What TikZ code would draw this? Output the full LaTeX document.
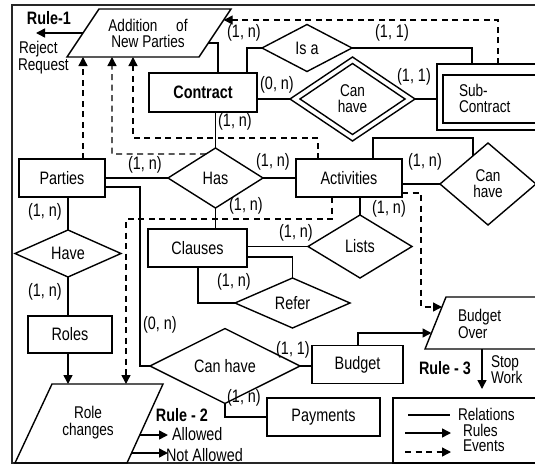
\documentclass[tikz,border=0pt]{standalone}
\usepackage{fontspec}
\setmainfont{Liberation Sans}[FakeStretch=0.8]
\usetikzlibrary{shapes.geometric,arrows.meta,calc}
\begin{document}
\begin{tikzpicture}[x=1pt,y=-1pt,
  every node/.style={font=\fontsize{18}{15}\selectfont, inner sep=0pt, outer sep=0pt},
  two/.style={font=\fontsize{17}{16}\selectfont},
  ent/.style={draw, rectangle, line width=1.8pt},
  rel/.style={draw, diamond, line width=1.4pt},
  para/.style={draw, line width=1.4pt, line join=miter},
  conn/.style={line width=1.5pt},
  rulearrow/.style={line width=1.5pt, -{Triangle[length=9pt,width=9pt]}},
  event/.style={line width=1.4pt, dash pattern=on 6pt off 4.5pt, -{Triangle[length=9pt,width=9pt]}},
  card/.style={}
]
\useasboundingbox (0,0) rectangle (535,466);
\clip (0,0) rectangle (535,466);

% frame
\draw[line width=1.6pt, draw=black!85] (12,5) rectangle (545,463);

% ---------- parallelograms ----------
\draw[para] (99,9) -- (231,9) -- (199,57) -- (67,57) -- cycle;
\node[align=center, two] (addition) at (148,33) {Addition\hspace{1.1em}of\\New Parties};
\coordinate (addR43) at (208.3,43);
\coordinate (addR20) at (223.7,20);
\coordinate (addL33) at (83,33);

\draw[para] (52,384) -- (163,384) -- (127,463) -- (15,463) -- cycle;
\node[align=center, font=\fontsize{17}{17}\selectfont] (rolech) at (88,423) {Role\\changes};
\coordinate (rcR1) at (139.8,435);
\coordinate (rcR2) at (131.6,453);

\draw[para] (446,297) -- (560,297) -- (539,349) -- (425,349) -- cycle;
\node[align=left, anchor=west, font=\fontsize{17}{17}\selectfont] (budgetover) at (458,323.5) {Budget\\Over};
\coordinate (boL333) at (431.5,333);
\coordinate (boL307) at (442,307);
\coordinate (boB) at (482,349);

% ---------- entities ----------
\node[ent, minimum width=108pt, minimum height=39pt, font=\fontsize{18}{15}\selectfont\bfseries] (contract) at (203,92.5) {Contract};
\node[ent, minimum width=86pt, minimum height=38pt] (parties) at (62,178) {Parties};
\node[ent, minimum width=106pt, minimum height=38pt] (activities) at (349,178) {Activities};
\node[ent, minimum width=99pt, minimum height=38pt] (clauses) at (197.5,248) {Clauses};
\node[ent, minimum width=84pt, minimum height=37pt] (roles) at (70,334.5) {Roles};
\node[ent, minimum width=91pt, minimum height=38pt] (budget) at (357.5,364.5) {Budget};
\node[ent, minimum width=113pt, minimum height=38pt] (payments) at (323.5,417) {Payments};

% Sub-contract (double box)
\draw[line width=1.8pt] (437,64) rectangle (560,130);
\draw[line width=1.8pt] (443,75) rectangle (560,123);
\node[align=left, anchor=west, two] (subcontract) at (459,98) {Sub-\\Contract};
\coordinate (scL) at (437,99);
\coordinate (scT1) at (472,64);
\coordinate (scT2) at (498,64);

% ---------- relationships ----------
\node[rel, minimum width=90pt, minimum height=47pt] (isa) at (307,48) {Is a};
\node[rel, minimum width=105pt, minimum height=71pt, align=center, two] (canhave1) at (352.5,99) {Can\\have};
\draw[line width=1.4pt, line join=miter] (290,99) -- (352.5,57) -- (415,99) -- (352.5,141) -- cycle;
\coordinate (ch1W) at (290,99);
\coordinate (ch1E) at (415,99);
\node[rel, minimum width=95pt, minimum height=60pt] (has) at (215.5,178) {Has};
\node[rel, minimum width=96pt, minimum height=82pt, align=center, two] (canhave2) at (488,184) {Can\\have};
\node[rel, minimum width=104pt, minimum height=63pt] (lists) at (360,246.5) {Lists};
\node[rel, minimum width=115pt, minimum height=50pt] (refer) at (292.5,303) {Refer};
\node[rel, minimum width=106pt, minimum height=47pt] (have) at (68,253.5) {Have};
\node[rel, minimum width=150pt, minimum height=46pt] (canhave3) at (225,366) {Can have};

% ---------- relations (solid) ----------
\draw[conn] (218,73) -- (218,43) -- (addR43);
\draw[conn] (247,73) -- (247,48) -- (isa.west);
\draw[conn] (isa.east) -- (472,48) -- (scT1);
\draw[conn] (contract.east |- ch1W) -- (ch1W);
\draw[conn] (ch1E) -- (scL);
\draw[conn] (has.north) -- (has.north |- contract.south);
\draw[conn] (parties.east) -- (has.west);
\draw[conn] (has.east) -- (activities.west);
\draw[conn] (has.south) -- (has.south |- clauses.north);
\draw[conn] (parties.east |- 0,187) -- (140,187) -- (140,366) -- (canhave3.west);
\draw[conn] (have.north) -- (have.north |- parties.south);
\draw[conn] (have.south) -- (have.south |- roles.north);
\draw[conn] (activities.east |- canhave2.west) -- (canhave2.west);
\draw[conn] (373,159) -- (373,138) -- (473,138) -- ($(canhave2.west)!0.6875!(canhave2.north)$);
\draw[conn] (lists.north |- activities.south) -- (lists.north);
\draw[conn] (clauses.east |- lists.west) -- (lists.west);
\draw[conn] (clauses.east |- 0,257) -- (292.5,257) -- (refer.north);
\draw[conn] (198,267) -- (198,303) -- (refer.west);
\draw[conn] (canhave3.east) -- (canhave3.east -| budget.west);
\draw[conn] (canhave3.south) |- (payments.west);

% ---------- rules (solid arrows) ----------
\draw[rulearrow] (358,345.5) -- (358,333) -- (boL333);
\draw[rulearrow] (boB) -- (482,389);
\draw[rulearrow] (addL33) -- (36,33);
\draw[rulearrow] (68,353) -- (68,384);
\draw[rulearrow] (rcR1) -- (168,435);
\draw[rulearrow] (rcR2) -- (168,453);

% ---------- events (dashed arrows) ----------
\draw[event] (scT2) -- (498,20) -- (addR20);
\draw[event] (83,159) -- (83,57);
\draw[event] ($(has.west)!0.8!(has.north)$) -- (112,154) -- (112,57);
\draw[event] (318,159) -- (318,138) -- (133,138) -- (133,57);
\draw[event] (332,197) -- (332,219) -- (126,219) -- (126,384);
\draw[event] (402,193) -- (421,193) -- (421,307) -- (boL307);

% ---------- cardinalities ----------
\node[card] (c1) at (244,33) {(1, n)};
\node[card] (c2) at (392,33) {(1, 1)};
\node[card] (c3) at (277,85) {(0, n)};
\node[card] (c4) at (414,77) {(1, 1)};
\node[card] (c5) at (235,122) {(1, n)};
\node[card] (c6) at (145,165) {(1, n)};
\node[card] (c7) at (273,162) {(1, n)};
\node[card] (c8) at (425,162) {(1, n)};
\node[card] (c9) at (246,206) {(1, n)};
\node[card] (c10) at (45,212) {(1, n)};
\node[card] (c11) at (389,209) {(1, n)};
\node[card] (c12) at (296,233) {(1, n)};
\node[card] (c13) at (234,282) {(1, n)};
\node[card] (c14) at (45,292) {(1, n)};
\node[card] (c15) at (160,325) {(0, n)};
\node[card] (c16) at (293,350) {(1, 1)};
\node[card] (c17) at (244,398) {(1, n)};

% ---------- rule texts ----------
\node[font=\fontsize{18}{15}\selectfont\bfseries] (rule1) at (49,18) {Rule-1};
\node[anchor=west, font=\fontsize{17}{15}\selectfont] (reject) at (19,49) {Reject};
\node[anchor=west, font=\fontsize{17}{15}\selectfont] (request) at (18,66) {Request};
\node[font=\fontsize{18}{15}\selectfont\bfseries] (rule2) at (182,415) {Rule - 2};
\node[anchor=west] (allowed) at (172,434) {Allowed};
\node[anchor=west] (notallowed) at (166,455) {Not Allowed};
\node[font=\fontsize{18}{15}\selectfont\bfseries] (rule3) at (445,368) {Rule - 3};
\node[anchor=west, align=left, two] (stop) at (491,369.5) {Stop\\Work};

% ---------- legend ----------
\draw[line width=2pt] (393,398) rectangle (560,463);
\coordinate (lg1a) at (408,415); \coordinate (lg1b) at (450,415);
\coordinate (lg2a) at (405,433); \coordinate (lg2b) at (451,433);
\coordinate (lg3a) at (405,452); \coordinate (lg3b) at (451,452);
\draw[conn] (lg1a) -- (lg1b);
\draw[rulearrow] (lg2a) -- (lg2b);
\draw[event] (lg3a) -- (lg3b);
\node[anchor=west, font=\fontsize{17}{15}\selectfont] (relations) at (458,414) {Relations};
\node[anchor=west, font=\fontsize{17}{15}\selectfont] (rules) at (463,430) {Rules};
\node[anchor=west, font=\fontsize{17}{15}\selectfont] (events) at (463,446) {Events};
\end{tikzpicture}
\end{document}
